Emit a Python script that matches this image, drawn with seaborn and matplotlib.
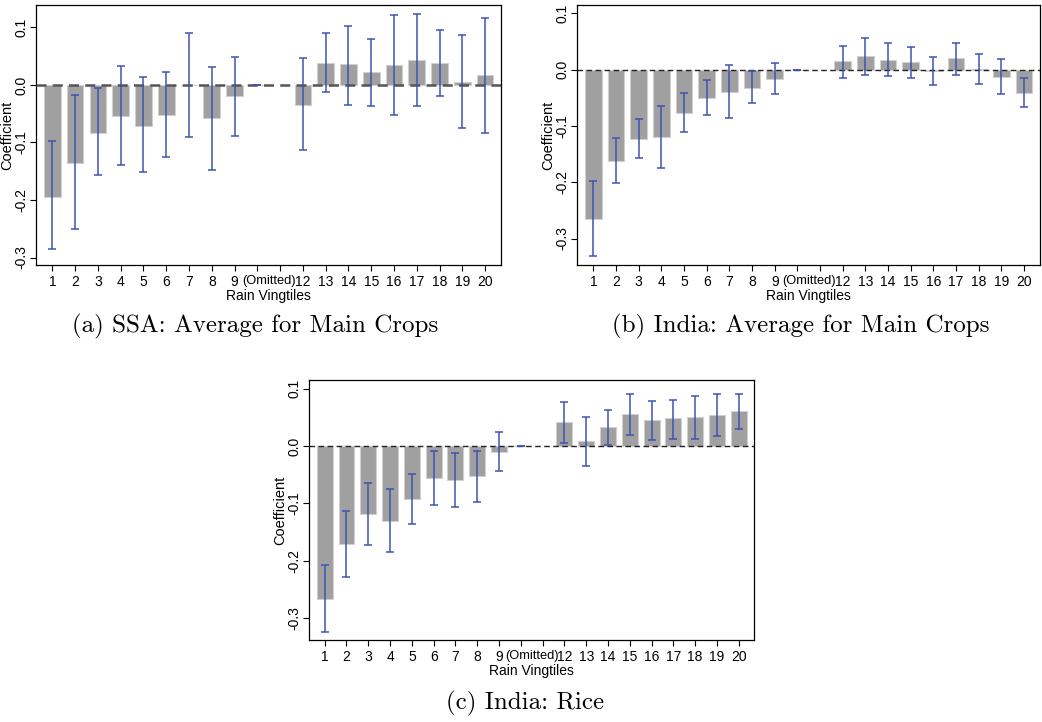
import numpy as np
import pandas as pd
import seaborn as sns
import matplotlib.pyplot as plt

# rain vingtile positions (11 has no estimate, 10 is the omitted one)
vingtiles = [1, 2, 3, 4, 5, 6, 7, 8, 9, 10, 12, 13, 14, 15, 16, 17, 18, 19, 20]
tick_labels = ['1', '2', '3', '4', '5', '6', '7', '8', '9', '', '', '12', '13',
               '14', '15', '16', '17', '18', '19', '20']

# (a) SSA: average for main crops
ssa_coef = [-0.194, -0.135, -0.083, -0.054, -0.071, -0.053, 0.0, -0.058, -0.020, 0.0,
            -0.034, 0.039, 0.036, 0.023, 0.035, 0.043, 0.038, 0.005, 0.017]
ssa_lo = [-0.286, -0.251, -0.157, -0.139, -0.152, -0.126, -0.090, -0.148, -0.088, 0.0,
          -0.113, -0.013, -0.034, -0.036, -0.053, -0.037, -0.020, -0.075, -0.083]
ssa_hi = [-0.098, -0.018, -0.006, 0.033, 0.013, 0.023, 0.091, 0.032, 0.049, 0.0,
          0.046, 0.091, 0.103, 0.080, 0.121, 0.123, 0.095, 0.086, 0.117]

# (b) India: average for main crops
ind_coef = [-0.266, -0.163, -0.123, -0.120, -0.077, -0.050, -0.040, -0.032, -0.016, 0.0,
            0.015, 0.024, 0.018, 0.014, -0.002, 0.021, 0.001, -0.013, -0.042]
ind_lo = [-0.331, -0.202, -0.157, -0.175, -0.110, -0.081, -0.086, -0.060, -0.044, 0.0,
          -0.015, -0.009, -0.012, -0.015, -0.027, -0.009, -0.025, -0.044, -0.067]
ind_hi = [-0.198, -0.121, -0.087, -0.065, -0.042, -0.018, 0.009, -0.003, 0.012, 0.0,
          0.043, 0.057, 0.047, 0.041, 0.022, 0.048, 0.028, 0.019, -0.015]

# (c) India: rice
rice_coef = [-0.267, -0.171, -0.119, -0.131, -0.092, -0.056, -0.060, -0.053, -0.010, 0.0,
             0.041, 0.009, 0.033, 0.055, 0.045, 0.048, 0.050, 0.054, 0.061]
rice_lo = [-0.324, -0.229, -0.172, -0.185, -0.136, -0.103, -0.106, -0.098, -0.044, 0.0,
           0.005, -0.034, 0.001, 0.019, 0.010, 0.013, 0.013, 0.017, 0.030]
rice_hi = [-0.208, -0.113, -0.064, -0.075, -0.048, -0.009, -0.013, -0.008, 0.025, 0.0,
           0.077, 0.050, 0.063, 0.091, 0.079, 0.081, 0.087, 0.091, 0.091]

captions = ['(a) SSA: Average for Main Crops', '(b) India: Average for Main Crops',
            '(c) India: Rice']

sns.set_style('white')
plt.rcParams['font.family'] = ['Liberation Sans', 'DejaVu Sans']
plt.rcParams['axes.unicode_minus'] = False
for key in ['text.color', 'axes.labelcolor', 'xtick.color', 'ytick.color']:
    plt.rcParams[key] = 'black'

W, H = 1042, 722
fig = plt.figure(figsize=(W / 100, H / 100), dpi=100)


def px_axes(left, top, right, bottom):
    return fig.add_axes([left / W, 1 - bottom / H, (right - left) / W, (bottom - top) / H])


def draw(ax, coef, lo, hi, ylim, zero_lw, zero_col):
    df = pd.DataFrame({'x': vingtiles, 'coef': coef})
    sns.barplot(data=df, x='x', y='coef', native_scale=True, width=0.73,
                color='#a0a0a0', saturation=1, edgecolor='#d0d0d0', linewidth=0.8,
                errorbar=None, ax=ax, zorder=2)
    c = np.array(coef)
    ax.axhline(0, color=zero_col, ls=(0, (4, 2.5)), lw=zero_lw, zorder=3)
    ax.errorbar(vingtiles, c, yerr=[c - np.array(lo), np.array(hi) - c], fmt='none',
                ecolor='#3f53b3', elinewidth=1.1, capsize=3, capthick=1.1, zorder=4)
    ax.set_xlim(0.28, 20.7)
    ax.set_ylim(*ylim)
    ax.set_xticks(range(1, 21), tick_labels)
    ax.set_xticks([10.5], ['(Omitted)'], minor=True)
    ax.tick_params(axis='x', which='minor', length=0, pad=7, labelsize=9.3)
    ax.tick_params(axis='x', which='major', length=4, width=0.8, pad=3, labelsize=10,
                   direction='out', bottom=True)
    ax.set_yticks([-0.3, -0.2, -0.1, 0.0, 0.1], ['-0.3', '-0.2', '-0.1', '0.0', '0.1'])
    ax.tick_params(axis='y', length=4, width=0.8, pad=1.5, labelsize=10, labelrotation=90,
                   direction='out', left=True)
    for lbl in ax.get_yticklabels():
        lbl.set_va('center')
    ax.set_xlabel('Rain Vingtiles', fontsize=10, labelpad=0)
    ax.set_ylabel('Coefficient', fontsize=10.5, labelpad=0)
    for s in ax.spines.values():
        s.set_color('black')
        s.set_linewidth(0.9)


ax_a = px_axes(36, 5, 501, 265)
draw(ax_a, ssa_coef, ssa_lo, ssa_hi, (-0.313, 0.139), 1.8, '#555555')
ax_b = px_axes(577, 5, 1040, 265)
draw(ax_b, ind_coef, ind_lo, ind_hi, (-0.347, 0.115), 1.0, '#222222')
ax_c = px_axes(309, 380, 754, 640)
draw(ax_c, rice_coef, rice_lo, rice_hi, (-0.338, 0.115), 1.0, '#222222')

fig.text(255 / W, 1 - 326 / H, captions[0], family='cmr10', fontsize=18,
         ha='center', va='center')
fig.text(801 / W, 1 - 326 / H, captions[1], family='cmr10', fontsize=18,
         ha='center', va='center')
fig.text(525 / W, 1 - 703 / H, captions[2], family='cmr10', fontsize=18,
         ha='center', va='center')

fig.savefig('out.png', dpi=100)
